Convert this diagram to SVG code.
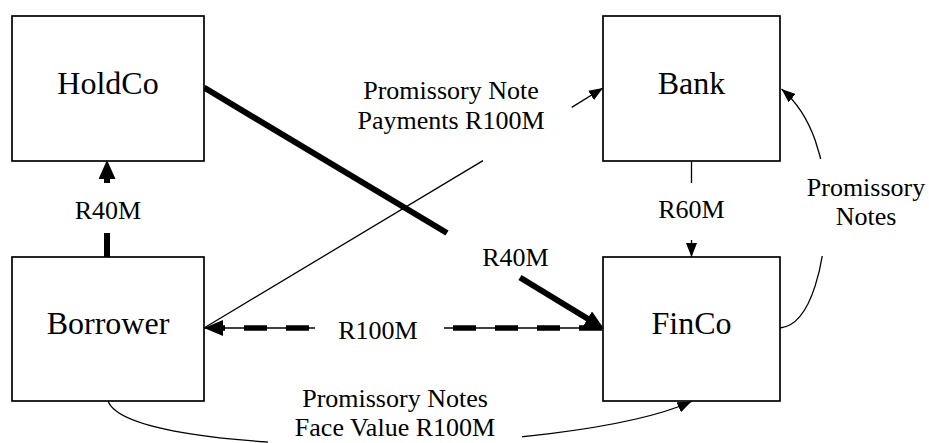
<svg xmlns="http://www.w3.org/2000/svg" width="929" height="443" viewBox="0 0 929 443">
<style>
.box{fill:#fff;stroke:#000;stroke-width:1.7}
.node{font-family:"Liberation Serif","Times New Roman",serif;font-size:32px;fill:#000;text-anchor:middle}
.lbl{font-family:"Liberation Serif","Times New Roman",serif;font-size:26px;fill:#000;text-anchor:middle}
.thin{fill:none;stroke:#000;stroke-width:1.3}
.thick{fill:none;stroke:#000;stroke-width:6}
.dash{fill:none;stroke:#000;stroke-width:5.5;stroke-dasharray:23 19}
.mask{fill:#fff;stroke:none}
</style>
<defs>
<marker id="aThin" markerUnits="userSpaceOnUse" viewBox="0 0 14 11" markerWidth="14" markerHeight="11" refX="14" refY="5.5" orient="auto"><path d="M0,0 L14,5.5 L0,11 z" fill="#000"/></marker>
<marker id="aMid" markerUnits="userSpaceOnUse" viewBox="0 0 19 16" markerWidth="19" markerHeight="16" refX="19" refY="8" orient="auto"><path d="M0,0 L19,8 L0,16 z" fill="#000"/></marker>
<marker id="aThick" markerUnits="userSpaceOnUse" viewBox="0 0 19 17" markerWidth="19" markerHeight="17" refX="6" refY="8.5" orient="auto"><path d="M0,0 L19,8.5 L0,17 z" fill="#000"/></marker>
</defs>
<rect width="929" height="443" fill="#fff"/>
<g id="connectors">
  <path class="thick" d="M107,183 V173" marker-end="url(#aThick)"/>
  <path class="thick" d="M107,257 V233"/>
  <path class="thick" d="M204,87.5 L447,233"/>
  <path class="thick" d="M520,277.5 L592.7,321.8" marker-end="url(#aThick)"/>
  <path class="thin" d="M204,328 L483,160.6"/>
  <path class="thin" d="M571.7,107.4 L603,88" marker-end="url(#aThin)"/>
  <path class="thin" d="M315,328 H204" marker-end="url(#aMid)"/>
  <path class="dash" d="M215,328 H315" style="stroke-dashoffset:13"/>
  <path class="thin" d="M444,328 H603"/>
  <path class="dash" d="M444,328 H603" style="stroke-dashoffset:33"/>
  <path class="thin" d="M691.5,161 V183"/>
  <path class="thin" d="M691.5,240 V257" marker-end="url(#aThin)"/>
  <path class="thin" d="M780,328 C812,325 826,260 826,208 C826,160 812,115 781.5,89" marker-end="url(#aThin)"/>
  <path class="thin" d="M108,401 C130,460 565,458 691.5,401.5" marker-end="url(#aThin)"/>
</g>
<g id="labels">
  <text class="lbl" x="108" y="219">R40M</text>
  <text class="lbl" x="515.5" y="266">R40M</text>
  <text class="lbl" x="691.5" y="218">R60M</text>
  <text class="lbl" x="378" y="339">R100M</text>
  <text class="lbl" x="451" y="99">Promissory Note</text>
  <text class="lbl" x="451" y="129">Payments R100M</text>
  <rect class="mask" x="800" y="159" width="129" height="97"/>
  <text class="lbl" x="866" y="196">Promissory</text>
  <text class="lbl" x="866" y="225">Notes</text>
  <rect class="mask" x="268" y="394" width="254" height="49"/>
  <text class="lbl" x="395" y="407">Promissory Notes</text>
  <text class="lbl" x="395" y="436">Face Value R100M</text>
</g>
<g id="HoldCo"><rect class="box" x="12" y="16" width="192" height="145"/><text class="node" x="108" y="94">HoldCo</text></g>
<g id="Bank"><rect class="box" x="603" y="16" width="177" height="145"/><text class="node" x="691.5" y="94">Bank</text></g>
<g id="Borrower"><rect class="box" x="12" y="257" width="192" height="144"/><text class="node" x="108" y="334">Borrower</text></g>
<g id="FinCo"><rect class="box" x="603" y="257" width="177" height="144"/><text class="node" x="691.5" y="334">FinCo</text></g>
</svg>
